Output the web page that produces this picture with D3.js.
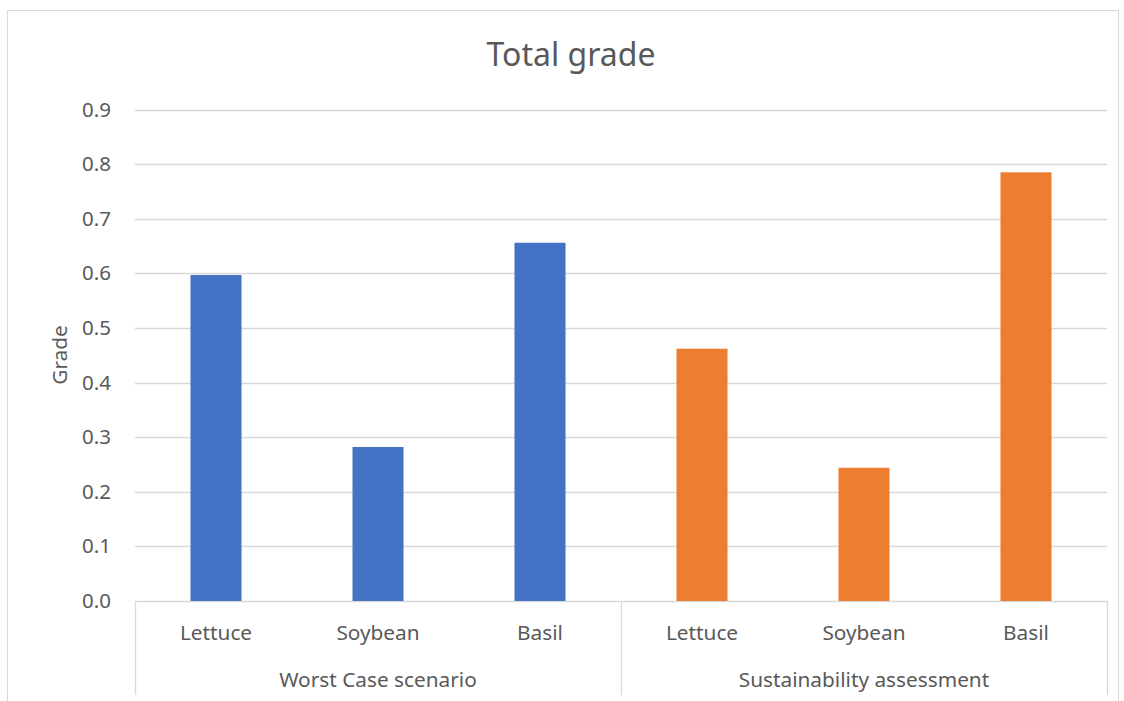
<!DOCTYPE html>
<html><head><meta charset="utf-8">
<script src="https://cdn.jsdelivr.net/npm/d3@7"></script>
<style>body{margin:0;background:#fff;}svg{display:block;}</style>
</head><body>
<svg id="c" width="1124" height="701"></svg>
<script>
const groups = ["Worst Case scenario", "Sustainability assessment"];
const crops = ["Lettuce", "Soybean", "Basil"];
const worstCase = [0.597, 0.282, 0.656];
const sustainability = [0.462, 0.244, 0.785];
const yTicks = [0, 0.1, 0.2, 0.3, 0.4, 0.5, 0.6, 0.7, 0.8, 0.9];
const colors = ["#4472C4", "#ED7D31"];

const seriesVals = [worstCase, sustainability];
const data = [];
groups.forEach((g, gi) => crops.forEach((c, ci) => data.push({group: g, crop: c, key: g + "|" + c, value: seriesVals[gi][ci], gi})));

const svg = d3.select("#c");
const font = "'Noto Sans', sans-serif";
const textCol = "#595959", gridCol = "#d9d9d9";

svg.append("rect").attr("x", 7.5).attr("y", 10.5).attr("width", 1111).attr("height", 720)
  .attr("fill", "#fff").attr("stroke", gridCol).attr("stroke-width", 1);

const L = 135, R = 1107, T = 109.5, B = 601;
const x = d3.scaleBand().domain(data.map(d => d.key)).range([L, R]).paddingInner(0.685).paddingOuter(0.3425);
const y = d3.scaleLinear().domain([0, 0.9]).range([B, T]);

// gridlines
svg.append("g").selectAll("line").data(yTicks).join("line")
  .attr("x1", L).attr("x2", R).attr("y1", d => Math.round(y(d)) + 0.5).attr("y2", d => Math.round(y(d)) + 0.5)
  .attr("stroke", gridCol).attr("stroke-width", 1.3);

// y axis labels
const yAxis = d3.axisLeft(y).tickValues(yTicks).tickFormat(d3.format(".1f")).tickSize(0).tickPadding(0);
const ya = svg.append("g").attr("transform", `translate(111,0)`).call(yAxis);
ya.select(".domain").remove();
ya.selectAll("text").attr("font-family", font).attr("font-size", 20.5).attr("fill", textCol);

// bars
svg.append("g").selectAll("rect").data(data).join("rect")
  .attr("x", d => x(d.key)).attr("width", x.bandwidth())
  .attr("y", d => y(d.value)).attr("height", d => y(0) - y(d.value))
  .attr("fill", d => colors[d.gi]);

// category labels
svg.append("g").selectAll("text").data(data).join("text")
  .attr("x", d => x(d.key) + x.bandwidth() / 2).attr("y", 640)
  .attr("text-anchor", "middle").attr("font-family", font).attr("font-size", 20.8).attr("fill", textCol)
  .text(d => d.crop);

// group separators and labels
const step = x.step();
const groupStart = gi => L + gi * crops.length * step;
const seps = d3.range(groups.length + 1).map(groupStart);
svg.append("g").selectAll("line").data(seps).join("line")
  .attr("x1", d => Math.round(d) + 0.5).attr("x2", d => Math.round(d) + 0.5)
  .attr("y1", B).attr("y2", 695).attr("stroke", gridCol).attr("stroke-width", 1.3);
svg.append("g").selectAll("text").data(groups).join("text")
  .attr("x", (d, i) => groupStart(i) + crops.length * step / 2).attr("y", 687)
  .attr("text-anchor", "middle").attr("font-family", font).attr("font-size", 20.8).attr("fill", textCol)
  .text(d => d);

// title
svg.append("text").attr("x", 571).attr("y", 66).attr("text-anchor", "middle")
  .attr("font-family", font).attr("font-size", 32).attr("fill", textCol).text("Total grade");

// y axis title
svg.append("text").attr("transform", "translate(67,355) rotate(-90)").attr("text-anchor", "middle")
  .attr("font-family", font).attr("font-size", 20.8).attr("fill", textCol).text("Grade");
</script>
</body></html>
